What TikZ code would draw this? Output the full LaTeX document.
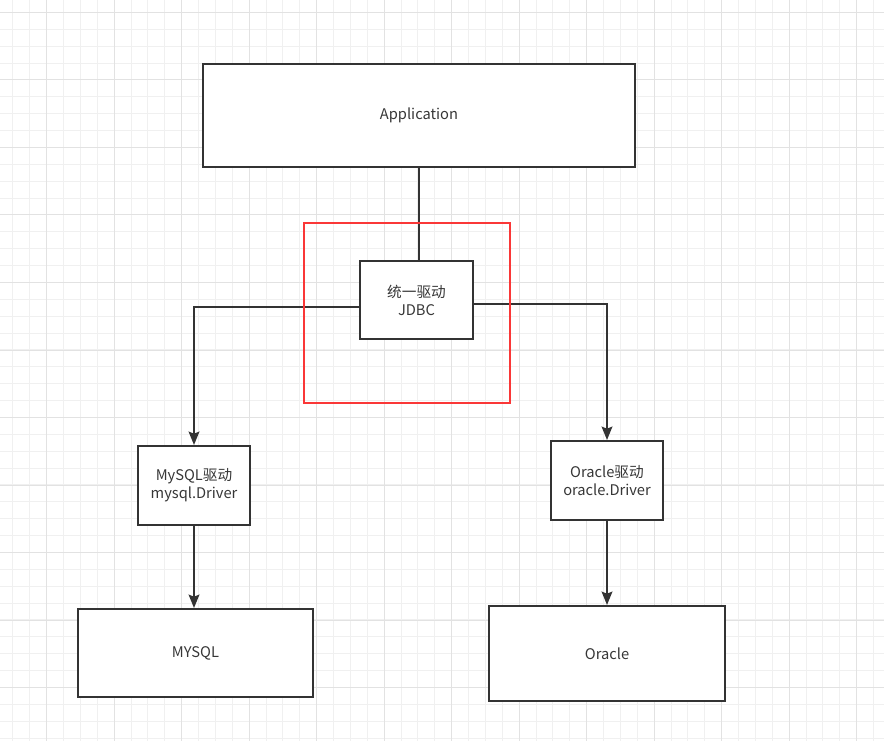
\documentclass[tikz,border=0pt]{standalone}
\usepackage{fontspec}
\setmainfont{Noto Sans CJK SC}
\usepackage{xcolor}
\usepackage{tikz}
\usetikzlibrary{arrows.meta, positioning}
\definecolor{LineGray}{RGB}{51, 51, 51}
\definecolor{TextGray}{RGB}{55, 55, 55}
\definecolor{GridMinor}{RGB}{240, 240, 240}
\definecolor{GridMajor}{RGB}{226, 226, 226}
\definecolor{FocusRed}{RGB}{250, 55, 55}

\tikzset{
  box/.style={draw=LineGray, fill=white, line width=1.5pt, inner sep=0pt,
              align=center, text=TextGray, font=\fontsize{11}{13.5}\selectfont},
  link/.style={draw=LineGray, line width=1.5pt},
  arr/.style={link, -{Stealth[length=10pt, width=8pt, inset=1.5pt]}}
}

\begin{document}
\begin{tikzpicture}[x=0.75pt, y=-0.75pt]
  \useasboundingbox (0,0) rectangle (884,741);
  \fill[white] (0,0) rectangle (884,741);
  % grid
  \foreach \i in {0,...,53} {
    \draw[GridMinor, line width=0.75pt] ({-3.9+16.875*\i},0) -- ++(0,741);
  }
  \foreach \i in {0,...,44} {
    \draw[GridMinor, line width=0.75pt] (0,{-4.4+16.875*\i}) -- ++(884,0);
  }
  \foreach \i in {0,...,13} {
    \draw[GridMajor, line width=0.75pt] ({-20.8+67.5*\i},0) -- ++(0,741);
  }
  \foreach \i in {0,...,11} {
    \draw[GridMajor, line width=0.75pt] (0,{12.5+67.5*\i}) -- ++(884,0);
  }

  \node[box, minimum width=324pt, minimum height=77.25pt] (app) at (419,115.5) {Application};
  \node[box, minimum width=84.75pt, minimum height=58.5pt] (jdbc) at (416.5,300) {统一驱动\\JDBC};
  \node[box, minimum width=84pt, minimum height=59.25pt] (mysqldrv) at (194,485.5) {MySQL驱动\\mysql.Driver};
  \node[box, minimum width=84pt, minimum height=59.25pt] (oracledrv) at (607,480.5) {Oracle驱动\\oracle.Driver};
  \node[box, minimum width=176.25pt, minimum height=66pt] (mysqldb) at (195.5,653) {MYSQL};
  \node[box, minimum width=177pt, minimum height=71.25pt] (oracledb) at (607,653.5) {Oracle};

  \draw[link] (app.south) -- (app.south |- jdbc.north);
  \draw[arr] ([yshift=-5pt]jdbc.west) -| (mysqldrv.north);
  \draw[arr] ([yshift=-3pt]jdbc.east) -| (oracledrv.north);
  \draw[arr] (mysqldrv.south) -- (mysqldrv.south |- mysqldb.north);
  \draw[arr] (oracledrv.south) -- (oracledb.north);

  % highlight round the unified driver
  \node[draw=FocusRed, line width=1.9pt, minimum width=154.5pt, minimum height=135pt,
        inner sep=0pt] (focus) at (407,313) {};
\end{tikzpicture}
\end{document}
